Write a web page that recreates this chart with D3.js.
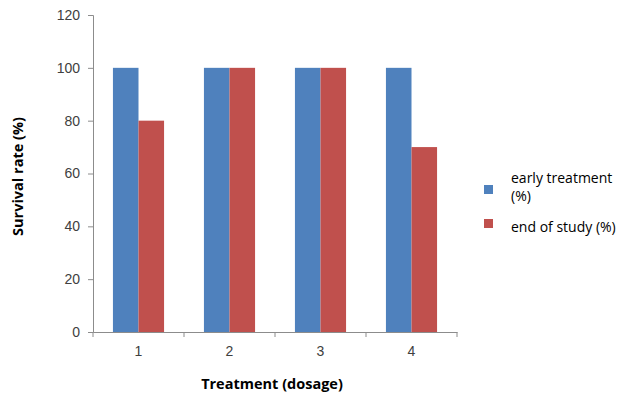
<!DOCTYPE html>
<html>
<head>
<meta charset="utf-8">
<script src="https://cdn.jsdelivr.net/npm/d3@7"></script>
<style>
  body { margin: 0; background: #fff; }
  svg { display: block; font-family: "Open Sans", "Liberation Sans", sans-serif; }
</style>
</head>
<body>
<svg id="chart" width="625" height="400"></svg>
<script>
// ── data ──
const categories = ['1', '2', '3', '4'];
const seriesNames = ['early treatment (%)', 'end of study (%)'];
const earlyTreatment = [100, 100, 100, 100];
const endOfStudy = [80, 100, 100, 70];
const yTicks = [0, 20, 40, 60, 80, 100, 120];
const colors = ['#4F81BD', '#C0504D'];

const svg = d3.select('#chart');
const m = { left: 93, top: 15, right: 457, bottom: 332 };

const x = d3.scaleBand().domain(categories).range([m.left, m.right]).paddingInner(0).paddingOuter(0);
const x1 = d3.scaleBand().domain([0, 1]).range([0, x.bandwidth()]).paddingOuter(0.78);
const y = d3.scaleLinear().domain([0, 120]).range([m.bottom, m.top]);

const axisColor = '#8c8c8c';

// bars
const rows = categories.map((c, i) => ({ c, vals: [earlyTreatment[i], endOfStudy[i]] }));
const gBars = svg.append('g');
rows.forEach(r => {
  r.vals.forEach((v, s) => {
    gBars.append('rect')
      .attr('x', x(r.c) + x1(s))
      .attr('y', y(v))
      .attr('width', x1.bandwidth())
      .attr('height', y(0) - y(v))
      .attr('fill', colors[s]);
  });
});

// y axis
const yAxis = svg.append('g')
  .attr('transform', `translate(${m.left},0)`)
  .call(d3.axisLeft(y).tickValues(yTicks).tickSize(5).tickPadding(8));
yAxis.select('.domain').attr('stroke', axisColor);
yAxis.selectAll('.tick line').attr('stroke', axisColor);
yAxis.selectAll('.tick text').attr('fill', '#404040').attr('font-size', 14);

// x axis
const xAxis = svg.append('g')
  .attr('transform', `translate(0,${m.bottom})`)
  .call(d3.axisBottom(x).tickSize(0).tickPadding(14).tickSizeOuter(0));
xAxis.select('.domain').attr('stroke', axisColor);
xAxis.selectAll('.tick text').attr('fill', '#404040').attr('font-size', 14);
// tick marks at band boundaries
const bounds = categories.map(c => x(c)).concat([m.right]);
xAxis.selectAll('.bound').data(bounds).join('line')
  .attr('class', 'bound')
  .attr('x1', d => d).attr('x2', d => d)
  .attr('y1', 0).attr('y2', 5)
  .attr('stroke', axisColor);

// axis titles
svg.append('text')
  .attr('transform', `translate(23,${(m.top + m.bottom) / 2 + 3}) rotate(-90)`)
  .attr('text-anchor', 'middle')
  .attr('font-weight', 'bold')
  .attr('font-size', 14.5)
  .attr('fill', '#000')
  .text('Survival rate (%)');

svg.append('text')
  .attr('x', 272)
  .attr('y', 389)
  .attr('text-anchor', 'middle')
  .attr('font-weight', 'bold')
  .attr('font-size', 14.5)
  .attr('fill', '#000')
  .text('Treatment (dosage)');

// legend
const legend = svg.append('g').attr('font-size', 14).attr('fill', '#000');
legend.append('rect').attr('x', 484).attr('y', 185).attr('width', 9).attr('height', 9).attr('fill', colors[0]);
legend.append('text').attr('x', 511).attr('y', 183).text('early treatment');
legend.append('text').attr('x', 511).attr('y', 201).text('(%)');
legend.append('rect').attr('x', 484).attr('y', 219).attr('width', 9).attr('height', 9).attr('fill', colors[1]);
legend.append('text').attr('x', 511).attr('y', 232).text(seriesNames[1]);
</script>
</body>
</html>
